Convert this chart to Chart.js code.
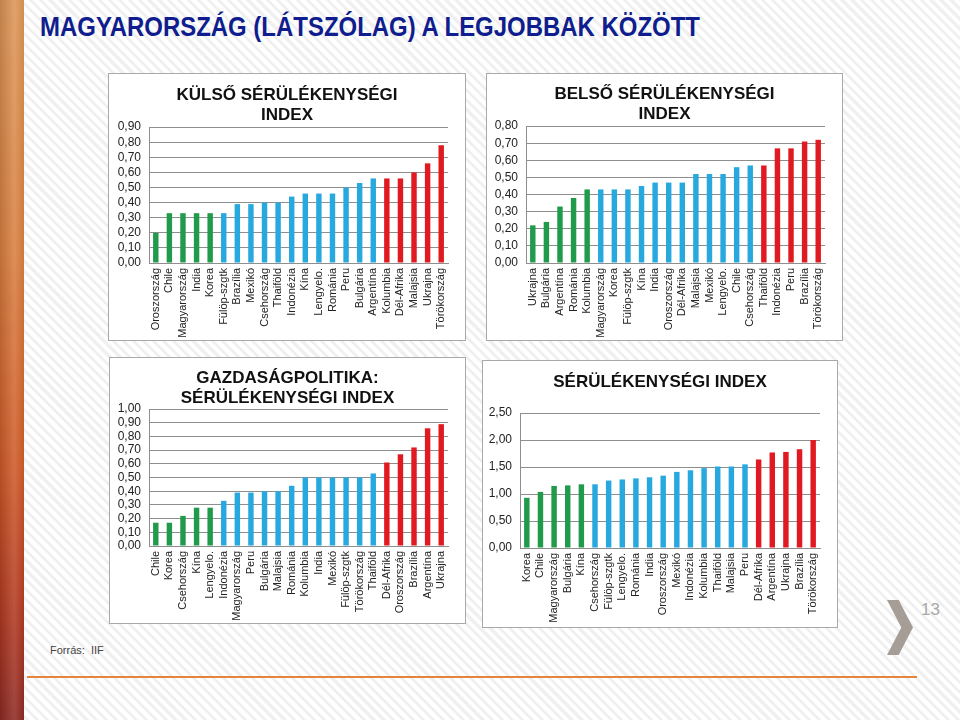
<!DOCTYPE html>
<html><head><meta charset="utf-8">
<script src="https://cdn.jsdelivr.net/npm/chart.js@4.4.1/dist/chart.umd.min.js"></script>
<style>
html,body{margin:0;padding:0;}
body{width:960px;height:720px;position:relative;overflow:hidden;background:#fff;
 background-image:repeating-linear-gradient(45deg,#ffffff 0px,#ffffff 4px,#f0f0f0 4px,#f0f0f0 7px);}
#leftbar{position:absolute;left:0;top:0;width:24px;height:720px;
 background:linear-gradient(to right,rgba(0,0,0,0.12),rgba(255,255,255,0.12) 60%,rgba(0,0,0,0.05)),
 linear-gradient(to bottom,#dc9656 0%,#d97f40 35%,#cf5a28 65%,#b23a22 85%,#8f2a24 100%);}
#title{position:absolute;left:40px;top:12px;font-family:'Liberation Sans Narrow','Liberation Sans',Arial,sans-serif;font-weight:bold;font-size:27px;line-height:30px;color:#0f1d8e;white-space:nowrap;transform-origin:left top;}
.panel{position:absolute;background:#fff;border:1px solid #a9a9a9;overflow:hidden;}
.panel canvas{display:block;}
#source{position:absolute;left:50px;top:644px;font-family:'Liberation Sans Narrow','Liberation Sans',Arial,sans-serif;font-size:11px;color:#444;}
#hline{position:absolute;left:27px;top:676px;width:890px;height:2px;background:#e5843c;}
#chev{position:absolute;left:887px;top:600px;width:26px;height:55px;background:#a59d96;
 clip-path:polygon(0 0,45% 0,100% 50%,45% 100%,0 100%,55% 50%);}
#pnum{position:absolute;left:921px;top:600px;font-family:'Liberation Sans',Arial,sans-serif;font-size:17px;color:#a8a8a8;}
</style></head>
<body>
<div id="leftbar"></div>
<div id="title">MAGYARORSZÁG (LÁTSZÓLAG) A LEGJOBBAK KÖZÖTT</div>

<div class="panel" style="left:108px;top:73px;width:356px;height:266px;"><canvas id="c1" width="356" height="266"></canvas></div>
<div class="panel" style="left:486px;top:73px;width:355px;height:266px;"><canvas id="c2" width="355" height="266"></canvas></div>
<div class="panel" style="left:109px;top:357px;width:355px;height:265px;"><canvas id="c3" width="355" height="265"></canvas></div>
<div class="panel" style="left:482px;top:360px;width:354px;height:266px;"><canvas id="c4" width="354" height="266"></canvas></div>

<div id="source">Forrás:&nbsp; IIF</div>
<div id="hline"></div>
<div id="chev"></div>
<div id="pnum">13</div>

<script>
// ---------- DATA ----------
const kulsoTitle = ['KÜLSŐ SÉRÜLÉKENYSÉGI', 'INDEX'];
const kulsoCategories = ['Oroszország','Chile','Magyarország','India','Korea','Fülöp-szgtk','Brazília','Mexikó','Csehország','Thaiföld','Indonézia','Kína','Lengyelo.','Románia','Peru','Bulgária','Argentína','Kolumbia','Dél-Afrika','Malajsia','Ukrajna','Törökország'];
const kulsoValues = [0.20,0.33,0.33,0.33,0.33,0.33,0.39,0.39,0.40,0.40,0.44,0.46,0.46,0.46,0.50,0.53,0.56,0.56,0.56,0.60,0.66,0.78];
const kulsoGroups = ['g','g','g','g','g','b','b','b','b','b','b','b','b','b','b','b','b','r','r','r','r','r'];
const kulsoTicks = {max:0.9, step:0.1};

const belsoTitle = ['BELSŐ SÉRÜLÉKENYSÉGI', 'INDEX'];
const belsoCategories = ['Ukrajna','Bulgária','Argentína','Románia','Kolumbia','Magyarország','Korea','Fülöp-szgtk','Kína','India','Oroszország','Dél-Afrika','Malajsia','Mexikó','Lengyelo.','Chile','Csehország','Thaiföld','Indonézia','Peru','Brazília','Törökország'];
const belsoValues = [0.22,0.24,0.33,0.38,0.43,0.43,0.43,0.43,0.45,0.47,0.47,0.47,0.52,0.52,0.52,0.56,0.57,0.57,0.67,0.67,0.71,0.72];
const belsoGroups = ['g','g','g','g','g','b','b','b','b','b','b','b','b','b','b','b','b','r','r','r','r','r'];
const belsoTicks = {max:0.8, step:0.1};

const gazdTitle = ['GAZDASÁGPOLITIKA:', 'SÉRÜLÉKENYSÉGI INDEX'];
const gazdCategories = ['Chile','Korea','Csehország','Kína','Lengyelo.','Indonézia','Magyarország','Peru','Bulgária','Malajsia','Románia','Kolumbia','India','Mexikó','Fülöp-szgtk','Törökország','Thaiföld','Dél-Afrika','Oroszország','Brazília','Argentína','Ukrajna'];
const gazdValues = [0.17,0.17,0.22,0.28,0.28,0.33,0.39,0.39,0.40,0.40,0.44,0.50,0.50,0.50,0.50,0.50,0.53,0.61,0.67,0.72,0.86,0.89];
const gazdGroups = ['g','g','g','g','g','b','b','b','b','b','b','b','b','b','b','b','b','r','r','r','r','r'];
const gazdTicks = {max:1.0, step:0.1};

const osszTitle = ['SÉRÜLÉKENYSÉGI INDEX'];
const osszCategories = ['Korea','Chile','Magyarország','Bulgária','Kína','Csehország','Fülöp-szgtk','Lengyelo.','Románia','India','Oroszország','Mexikó','Indonézia','Kolumbia','Thaiföld','Malajsia','Peru','Dél-Afrika','Argentína','Ukrajna','Brazília','Törökország'];
const osszValues = [0.93,1.04,1.15,1.16,1.18,1.18,1.25,1.27,1.29,1.31,1.34,1.41,1.44,1.48,1.51,1.51,1.55,1.64,1.77,1.78,1.83,2.00];
const osszGroups = ['g','g','g','g','g','b','b','b','b','b','b','b','b','b','b','b','b','r','r','r','r','r'];
const osszTicks = {max:2.5, step:0.5};

// ---------- STYLE ----------
const groupColors = {g:'#1f9b4b', b:'#27a9e0', r:'#e01a20'};
const gridColor = '#8e8e8e';
Chart.defaults.font.family = "'Liberation Sans', Arial, sans-serif";
Chart.defaults.color = '#222';

function makeChart(id, title, cats, vals, groups, ticks, L) {
  new Chart(document.getElementById(id), {
    type: 'bar',
    data: {
      labels: cats,
      datasets: [{
        data: vals,
        backgroundColor: groups.map(g => groupColors[g]),
        barPercentage: 0.8,
        categoryPercentage: 0.5,
        yAxisID: 'y'
      }]
    },
    options: {
      responsive: false,
      animation: false,
      layout: {padding: 0},
      plugins: {
        legend: {display: false},
        tooltip: {enabled: false},
        title: {
          display: true, text: title, color: '#111',
          font: {size: 17, weight: 'bold', lineHeight: 1.18},
          padding: {top: L.tTop, bottom: L.tBot}
        }
      },
      scales: {
        x: {
          grid: {display: false, drawTicks: false},
          border: {display: true, color: gridColor},
          ticks: {autoSkip: false, minRotation: 90, maxRotation: 90, font: {size: 11}, color: '#222', padding: 5},
          afterFit: s => { s.height = L.xH; }
        },
        y: {
          min: 0, max: ticks.max,
          grid: {color: gridColor, drawTicks: false},
          border: {display: true, color: gridColor},
          ticks: {stepSize: ticks.step, autoSkip: false, font: {size: 12}, color: '#222', padding: 8,
                  callback: v => v.toFixed(2).replace('.', ',')},
          afterFit: s => { s.width = L.yW; }
        },
        yr: {
          position: 'right',
          grid: {display: false, drawTicks: false},
          border: {display: false},
          ticks: {display: false},
          afterFit: s => { s.width = L.right; }
        }
      }
    }
  });
}

makeChart('c1', kulsoTitle, kulsoCategories, kulsoValues, kulsoGroups, kulsoTicks, {right:17, tTop:11, tBot:2, xH:77, yW:40});
makeChart('c2', belsoTitle, belsoCategories, belsoValues, belsoGroups, belsoTicks, {right:17, tTop:10, tBot:2, xH:77, yW:39});
makeChart('c3', gazdTitle, gazdCategories, gazdValues, gazdGroups, gazdTicks, {right:17, tTop:10, tBot:1, xH:77, yW:39});
makeChart('c4', osszTitle, osszCategories, osszValues, osszGroups, osszTicks, {right:17, tTop:11, tBot:21, xH:79, yW:37});

// fit title width
const t = document.getElementById('title');
const w = t.getBoundingClientRect().width;
t.style.transform = 'scaleX(' + (660 / w) + ')';
</script>
</body></html>
